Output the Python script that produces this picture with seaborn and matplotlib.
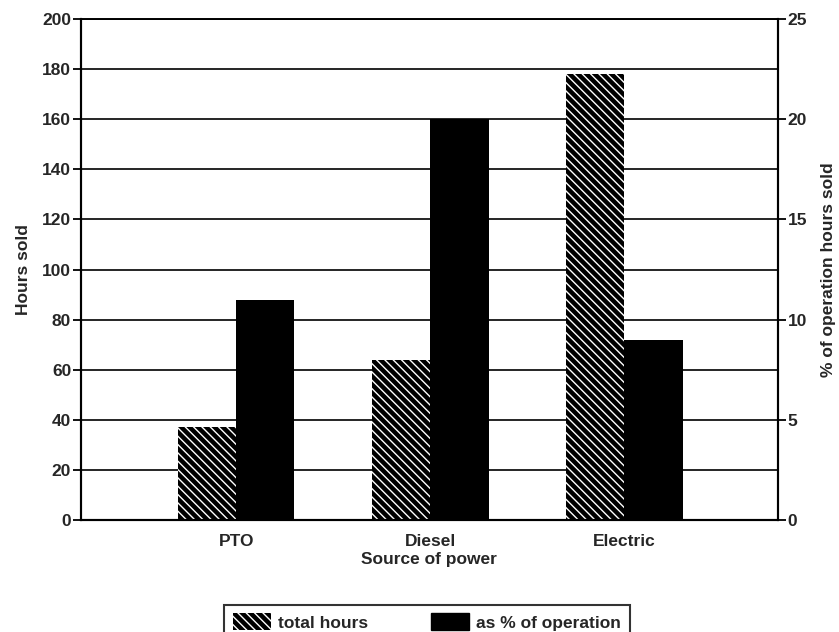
import matplotlib
matplotlib.use("Agg")
import matplotlib.pyplot as plt
import matplotlib.patches as mpatches
import numpy as np
import pandas as pd
import seaborn as sns

sources = ["PTO", "Diesel", "Electric"]
total_hours = [37, 64, 178]
pct_operation = [11, 20, 9]
series = ["total hours", "as % of operation"]

sns.set_style("white")
plt.rcParams['font.family'] = ['Liberation Sans', 'DejaVu Sans']
plt.rcParams['font.weight'] = 'bold'
plt.rcParams['axes.labelweight'] = 'bold'
plt.rcParams['hatch.linewidth'] = 1.0

df = pd.DataFrame({
    "source": sources * 2,
    "series": [series[0]] * 3 + [series[1]] * 3,
    "hours": total_hours + [np.nan] * 3,
    "pct": [np.nan] * 3 + pct_operation,
})

fig = plt.figure(figsize=(8.39, 6.32), dpi=100)
ax = fig.add_axes([0.0965, 0.177, 0.8305, 0.793])
ax2 = ax.twinx()

# hatched bars on the hours axis
sns.barplot(data=df, x="source", y="hours", hue="series", hue_order=series,
            order=sources, width=0.6, ax=ax, legend=False,
            palette=["black", "black"], saturation=1, err_kws={'linewidth': 0})
for p in ax.patches:
    p.set_facecolor("black")
    p.set_edgecolor("white")
    p.set_hatch("\\\\\\\\")
    p.set_linewidth(0)

# solid bars on the percent axis
sns.barplot(data=df, x="source", y="pct", hue="series", hue_order=series,
            order=sources, width=0.6, ax=ax2, legend=False,
            palette=["black", "black"], saturation=1, err_kws={'linewidth': 0})
for p in ax2.patches:
    p.set_linewidth(0)

ax.set_xlim(-0.80, 2.79)
ax.set_ylim(0, 200)
ax2.set_ylim(0, 25)
ax.set_yticks(np.arange(0, 201, 20))
ax2.set_yticks(np.arange(0, 26, 5))

ax.grid(axis="y", color="black", linewidth=1.2)
ax.set_axisbelow(True)
ax2.grid(False)

fs = 12.5
ax.set_xticks([-0.80, 0.5, 1.5], labels=["", "", ""])
ax.set_xticks([0, 1, 2], labels=sources, minor=True)
ax.tick_params(axis="x", which="major", direction="out", length=7, width=1.3, color="black")
ax.tick_params(axis="x", which="minor", length=0, labelsize=fs, pad=10)
ax.tick_params(axis="y", direction="out", length=6, width=1.3, color="black",
               labelsize=fs, pad=1, left=True)
ax2.tick_params(axis="y", direction="out", length=6, width=1.3, color="black",
                labelsize=fs, pad=1, right=True)

for a in (ax, ax2):
    for s in a.spines.values():
        s.set_color("black")
        s.set_linewidth(1.5)
    a.spines["top"].set_linewidth(1.2)

ax.set_xlabel("Source of power", fontsize=fs, labelpad=2)
ax.set_ylabel("Hours sold", fontsize=fs, labelpad=8)
ax2.set_ylabel("% of operation hours sold", fontsize=fs, labelpad=10)

handles = [
    mpatches.Patch(facecolor="black", edgecolor="white", hatch="\\\\\\\\", linewidth=0,
                   label=series[0]),
    mpatches.Patch(facecolor="black", edgecolor="black", label=series[1]),
]
leg = fig.legend(handles=handles, loc="upper center", bbox_to_anchor=(0.509, 0.057),
                 ncol=2, frameon=True, fancybox=False, fontsize=fs,
                 handlelength=2.2, handleheight=1.1, columnspacing=3.6,
                 borderpad=0.5, handletextpad=0.4)
leg.get_frame().set_edgecolor("black")
leg.get_frame().set_linewidth(1.5)

fig.savefig("out.png", dpi=100)
